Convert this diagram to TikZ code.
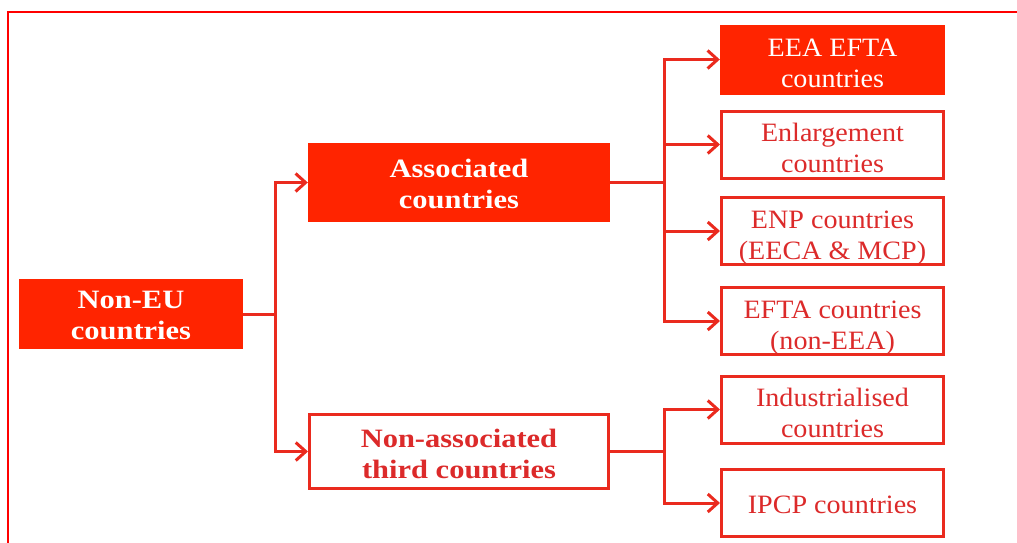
\documentclass[tikz,border=0pt]{standalone}
\usepackage{fontspec}
\setmainfont{Liberation Serif}[FakeStretch=1.06, BoldFeatures={FakeStretch=1.15}]
\usetikzlibrary{arrows.meta}
\definecolor{fillred}{HTML}{FF2400}
\definecolor{linered}{HTML}{EA2A1E}
\definecolor{txtred}{HTML}{DC2A2A}
\definecolor{framered}{HTML}{FF0000}
\tikzset{
  boxbase/.style={rectangle, inner sep=0pt, align=center, font=\fontsize{26.5}{31}\selectfont,
    text height=50pt, text depth=0pt},
  filledbox/.style={boxbase, fill=fillred, text=white},
  outlinebox/.style={boxbase, draw=linered, line width=3pt, fill=white, text=txtred},
  rightbox/.style={minimum width=222pt, minimum height=67pt, text height=56pt},
  conn/.style={draw=linered, line width=3pt},
  arr/.style={conn, -{Straight Barb[length=10pt,width=18pt,line width=3pt]}},
}
\begin{document}
\begin{tikzpicture}[x=1pt,y=-1pt]
\useasboundingbox (0,0) rectangle (1017,542);
\draw[framered, line width=2pt] (8,545) -- (8,12) -- (1020,12);

\node[filledbox, minimum width=224pt, minimum height=70pt, text height=51pt] (noneu) at (131,314) {\bfseries Non-EU\\\bfseries countries};
\node[filledbox, minimum width=302pt, minimum height=79pt, text height=52pt] (assoc) at (459,182.5) {\bfseries Associated\\\bfseries countries};
\node[outlinebox, minimum width=299pt, minimum height=74pt, text height=53pt] (nonassoc) at (459,451.5) {\bfseries Non-associated\\\bfseries third countries};

\node[filledbox, rightbox, minimum width=225pt, minimum height=70pt] (eea) at (832.5,59.5) {EEA EFTA\\countries};
\node[outlinebox, rightbox] (enl) at (832.5,144.5) {Enlargement\\countries};
\node[outlinebox, rightbox, text height=57pt] (enp) at (832.5,231) {ENP countries\\(EECA \& MCP)};
\node[outlinebox, rightbox] (efta) at (832.5,321) {EFTA countries\\(non-EEA)};
\node[outlinebox, rightbox] (ind) at (832.5,409.5) {Industrialised\\countries};
\node[outlinebox, rightbox, text height=21pt] (ipcp) at (832.5,503) {IPCP countries};

\coordinate (j1) at (275,314);
\coordinate (j2) at (664,182.5);
\coordinate (j3) at (664,451.5);

\draw[conn] (noneu.east) -- (j1);
\draw[arr] (j1) |- (assoc.west);
\draw[arr] (j1) |- (nonassoc.west);

\draw[conn] (assoc.east) -- (j2);
\draw[arr] (j2) |- (eea.west);
\draw[arr] (j2) |- (enl.west);
\draw[arr] (j2) |- (enp.west);
\draw[arr] (j2) |- (efta.west);

\draw[conn] (nonassoc.east) -- (j3);
\draw[arr] (j3) |- (ind.west);
\draw[arr] (j3) |- (ipcp.west);
\end{tikzpicture}
\end{document}
